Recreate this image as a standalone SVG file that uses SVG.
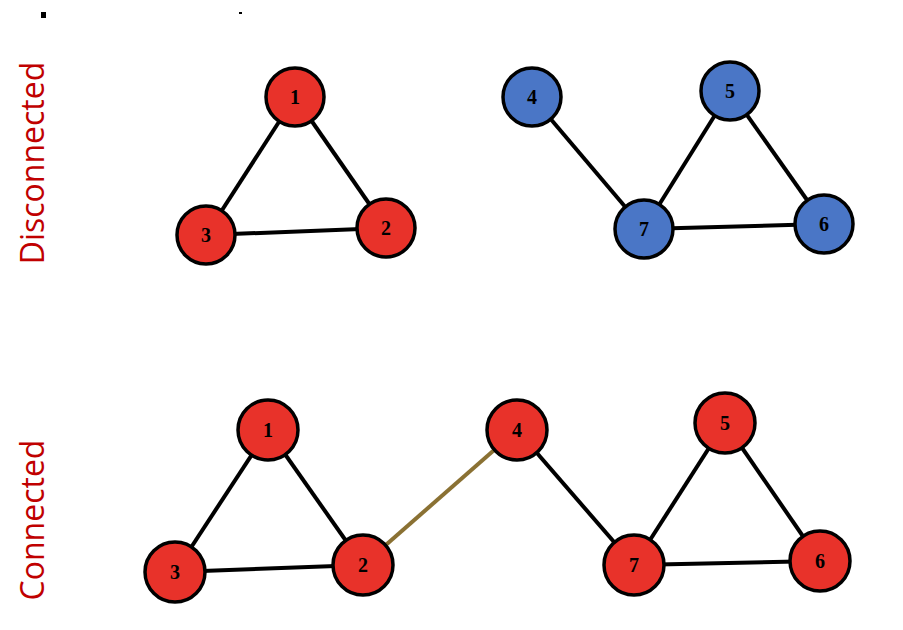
<svg xmlns="http://www.w3.org/2000/svg" width="903" height="630" viewBox="0 0 903 630">
<style>
.e{stroke:#000;stroke-width:4}
.n circle{stroke:#000;stroke-width:3.5}
.r circle{fill:#e8322a}
.b circle{fill:#4a76c6}
.n text{font-family:"Liberation Serif",serif;font-weight:bold;font-size:20px;text-anchor:middle;fill:#000}
.lab{font-family:"Open Sans","Liberation Sans",sans-serif;font-size:32px;fill:#c00000;text-anchor:middle}
</style>
<rect width="903" height="630" fill="#fff"/>
<rect x="41" y="12" width="5" height="6" fill="#000"/>
<rect x="239" y="12" width="3" height="2" fill="#000"/>
<text class="lab" transform="translate(44,163) rotate(-90)">Disconnected</text>
<text class="lab" transform="translate(44,520) rotate(-90)">Connected</text>
<g id="connectors">
<line class="e" x1="295" y1="97" x2="386" y2="228"/>
<line class="e" x1="295" y1="97" x2="206" y2="235"/>
<line class="e" x1="206" y1="235" x2="386" y2="228"/>
<line class="e" x1="532" y1="97" x2="644" y2="229"/>
<line class="e" x1="730" y1="91" x2="644" y2="229"/>
<line class="e" x1="730" y1="91" x2="824" y2="224"/>
<line class="e" x1="644" y1="229" x2="824" y2="224"/>
<line class="e" x1="268" y1="430" x2="363" y2="565"/>
<line class="e" x1="268" y1="430" x2="175" y2="572"/>
<line class="e" x1="175" y1="572" x2="363" y2="565"/>
<line x1="363" y1="565" x2="517" y2="430" stroke="#8a7133" stroke-width="4"/>
<line class="e" x1="517" y1="430" x2="634" y2="565"/>
<line class="e" x1="725" y1="423" x2="634" y2="565"/>
<line class="e" x1="725" y1="423" x2="820" y2="561"/>
<line class="e" x1="634" y1="565" x2="820" y2="561"/>
</g>
<g id="d1" class="n r"><circle cx="295" cy="97" r="29"/><text x="295" y="104">1</text></g>
<g id="d2" class="n r"><circle cx="386" cy="228" r="29"/><text x="386" y="235">2</text></g>
<g id="d3" class="n r"><circle cx="206" cy="235" r="29"/><text x="206" y="242">3</text></g>
<g id="d4" class="n b"><circle cx="532" cy="97" r="29"/><text x="532" y="104">4</text></g>
<g id="d5" class="n b"><circle cx="730" cy="91" r="29"/><text x="730" y="98">5</text></g>
<g id="d6" class="n b"><circle cx="824" cy="224" r="29"/><text x="824" y="231">6</text></g>
<g id="d7" class="n b"><circle cx="644" cy="229" r="29"/><text x="644" y="236">7</text></g>
<g id="c1" class="n r"><circle cx="268" cy="430" r="30"/><text x="268" y="437">1</text></g>
<g id="c2" class="n r"><circle cx="363" cy="565" r="30"/><text x="363" y="572">2</text></g>
<g id="c3" class="n r"><circle cx="175" cy="572" r="30"/><text x="175" y="579">3</text></g>
<g id="c4" class="n r"><circle cx="517" cy="430" r="30"/><text x="517" y="437">4</text></g>
<g id="c5" class="n r"><circle cx="725" cy="423" r="30"/><text x="725" y="430">5</text></g>
<g id="c6" class="n r"><circle cx="820" cy="561" r="30"/><text x="820" y="568">6</text></g>
<g id="c7" class="n r"><circle cx="634" cy="565" r="30"/><text x="634" y="572">7</text></g>
</svg>
